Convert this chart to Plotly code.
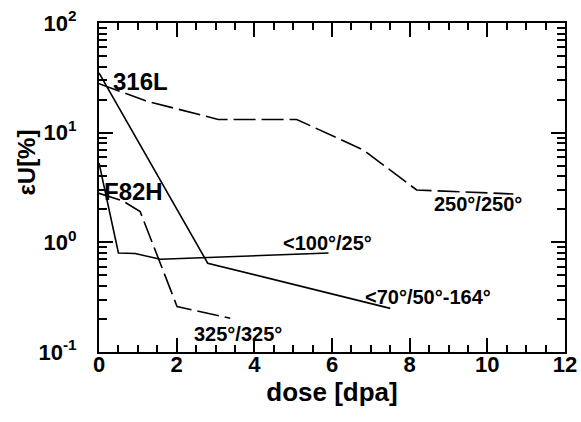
import numpy as np
import plotly.graph_objects as go

# 316L, 250°/250° (dashed)
dose_316_250 = [0.0, 1.2, 3.07, 5.09, 6.81, 8.18, 10.67]
eu_316_250 = [28.0, 19.5, 13.2, 13.2, 6.95, 3.0, 2.76]
# 316L, <70°/50°-164° (solid)
dose_316_70 = [0.0, 2.8, 7.5]
eu_316_70 = [35.0, 0.645, 0.25]
# F82H, <100°/25° (solid)
dose_f82_100 = [0.0, 0.5, 0.93, 1.58, 5.91]
eu_f82_100 = [5.3, 0.80, 0.79, 0.70, 0.80]
# F82H, 325°/325° (dashed)
dose_f82_325 = [0.0, 0.6, 1.06, 2.01, 3.38]
eu_f82_325 = [2.8, 2.4, 1.91, 0.26, 0.203]

labels = ["316L", "F82H", "250°/250°", "<100°/25°", "<70°/50°-164°", "325°/325°"]
label_x = [1.06, 0.88, 9.76, 5.88, 8.47, 3.59]
label_y = [29.0, 2.89, 2.25, 0.99, 0.32, 0.147]
label_size = [24, 24, 20, 20, 20, 20]

xtick_vals = [0, 2, 4, 6, 8, 10, 12]
ytick_vals = [0.1, 1, 10, 100]
ytick_text = ["10<sup>-1</sup>", "10<sup>0</sup>", "10<sup>1</sup>", "10<sup>2</sup>"]

FONT = "Liberation Sans, Arial, sans-serif"
DASH = "22px,6px"

fig = go.Figure()
series = [
    (dose_316_250, eu_316_250, DASH),
    (dose_316_70, eu_316_70, "solid"),
    (dose_f82_100, eu_f82_100, "solid"),
    (dose_f82_325, eu_f82_325, DASH),
]
for xs, ys, dash in series:
    fig.add_trace(go.Scatter(x=xs, y=ys, mode="lines",
                             line=dict(color="black", width=1.6, dash=dash),
                             showlegend=False, hoverinfo="skip"))

for t, x, y, s in zip(labels, label_x, label_y, label_size):
    fig.add_annotation(x=x, y=np.log10(y), xref="x", yref="y", text="<b>%s</b>" % t,
                       showarrow=False, font=dict(family=FONT, size=s, color="black"))

# y-axis title as rotated annotation
fig.add_annotation(x=-0.155, y=0.575, xref="paper", yref="paper", text="<b>εU[%]</b>",
                   textangle=-90, showarrow=False, xanchor="center", yanchor="middle",
                   font=dict(family=FONT, size=24, color="black"))

fig.update_layout(
    width=581, height=422,
    margin=dict(l=99, r=16, t=23, b=70),
    plot_bgcolor="white", paper_bgcolor="white",
    font=dict(family=FONT, color="black"),
    xaxis=dict(range=[0, 12], tickvals=xtick_vals,
               ticktext=["<b>%d</b>" % v for v in xtick_vals],
               automargin=False, ticklabelstandoff=-8,
               ticks="inside", ticklen=14, tickwidth=1.5, tickcolor="black",
               showline=True, linecolor="black", linewidth=2, mirror="ticks",
               showgrid=False, zeroline=False,
               tickfont=dict(family=FONT, size=22, color="black"),
               minor=dict(dtick=0.5, ticks="inside", ticklen=7, tickwidth=1.5,
                          tickcolor="black", showgrid=False),
               title=dict(text="<b>dose [dpa]</b>", font=dict(family=FONT, size=26),
                          standoff=0)),
    yaxis=dict(type="log", range=[-1, 2], tickvals=ytick_vals,
               ticktext=["<b>%s</b>" % t for t in ytick_text],
               automargin=False, ticklabelstandoff=16,
               ticks="inside", ticklen=14, tickwidth=1.5, tickcolor="black",
               showline=True, linecolor="black", linewidth=2, mirror="ticks",
               showgrid=False, zeroline=False,
               tickfont=dict(family=FONT, size=22, color="black"),
               minor=dict(dtick="D1", ticks="inside", ticklen=8, tickwidth=1.5,
                          tickcolor="black", showgrid=False)),
)

fig.write_html("out.html")
